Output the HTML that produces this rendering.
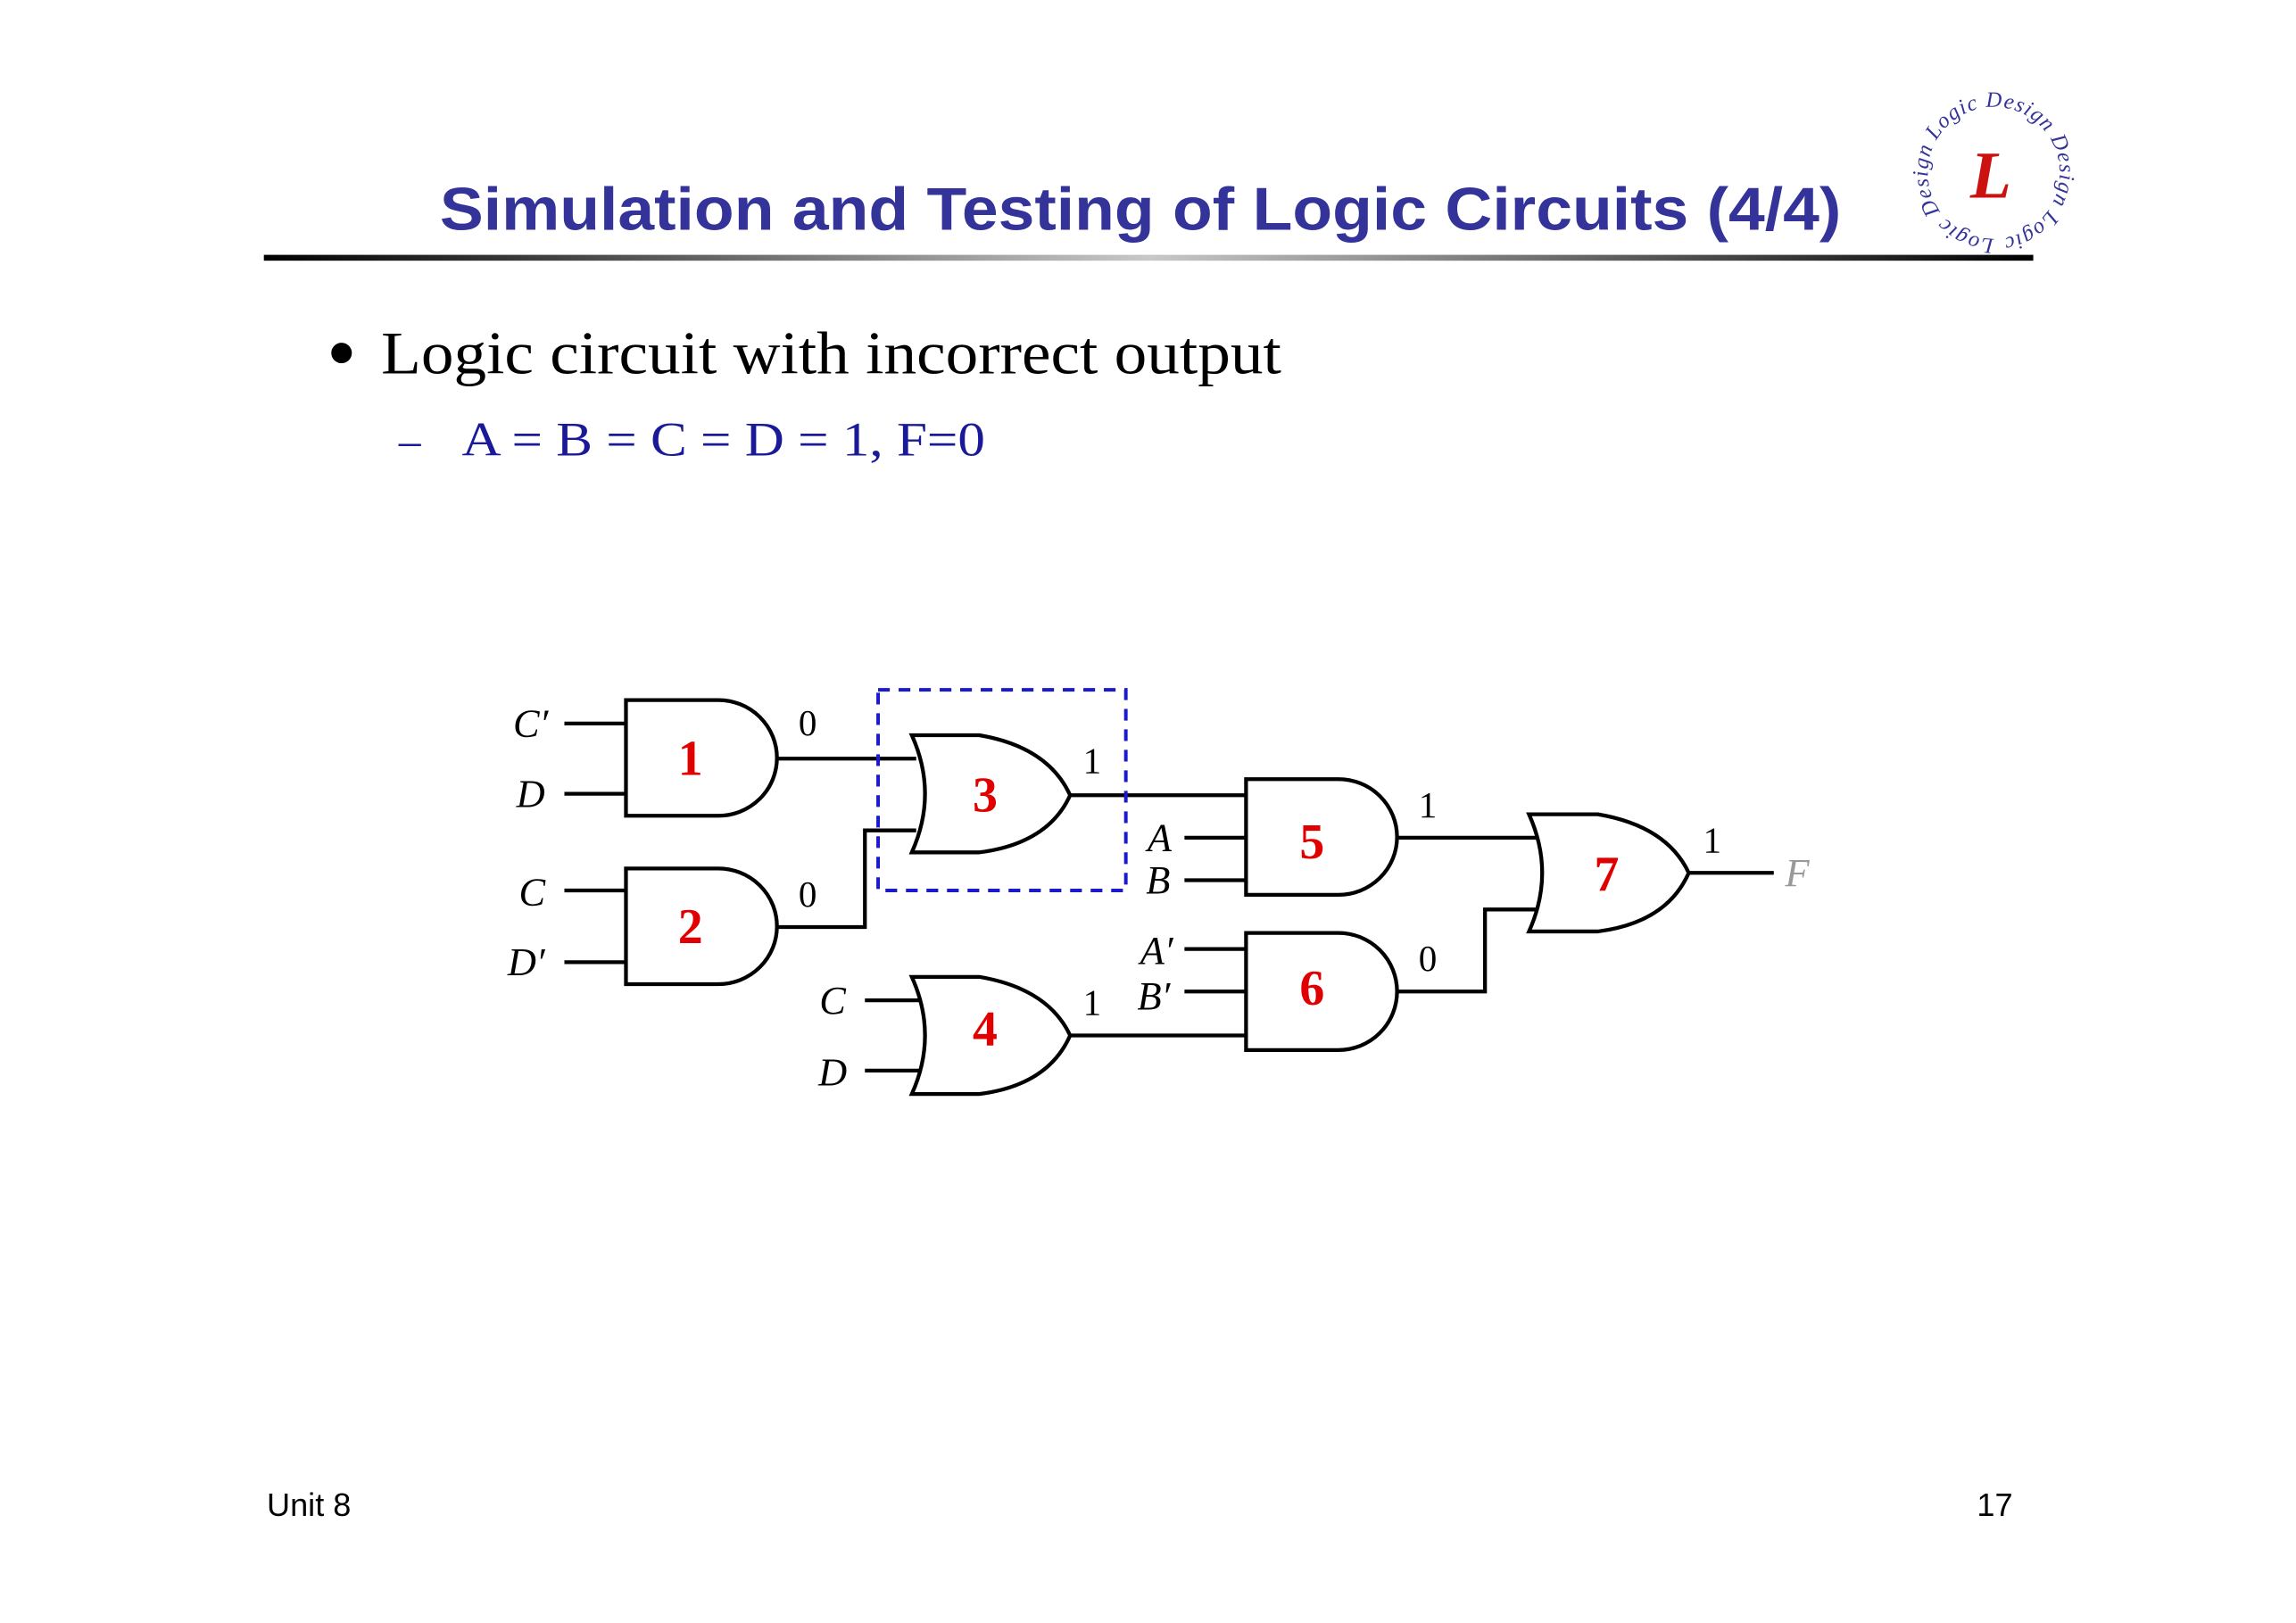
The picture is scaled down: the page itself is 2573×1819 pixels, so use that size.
<!DOCTYPE html>
<html><head><meta charset="utf-8"><style>html,body{margin:0;padding:0;background:#fff}svg{display:block}</style></head>
<body>
<svg width="2573" height="1819" viewBox="0 0 1549 1096" preserveAspectRatio="none" xmlns="http://www.w3.org/2000/svg">
<defs>
<linearGradient id="rg" x1="0" x2="1" y1="0" y2="0">
<stop offset="0" stop-color="#000"/><stop offset="0.5" stop-color="#c8c8c8"/><stop offset="1" stop-color="#000"/>
</linearGradient>
<path id="circ" d="M1360,163 a45,45 0 1,1 0.1,0"/>
</defs>
<rect width="1549" height="1096" fill="#fff"/>
<g transform="scale(0.989)">
<text x="300" y="157" font-family="Liberation Sans, sans-serif" font-weight="bold" font-size="41" fill="#333399" textLength="956" lengthAdjust="spacingAndGlyphs">Simulation and Testing of Logic Circuits (4/4)</text>
<rect x="180" y="174" width="1207" height="4" fill="url(#rg)"/>
<g font-family="Liberation Serif, serif" font-style="italic">
<text font-size="15" fill="#333399"><textPath href="#circ" textLength="275">Logic Design Logic Design Design Logic</textPath></text>
<text x="1358" y="135" font-size="46" fill="#cc1111" text-anchor="middle" font-weight="bold">L</text>
</g>
<circle cx="233" cy="241" r="7" fill="#000"/>
<text x="260" y="255" font-family="Liberation Serif, serif" font-size="41" fill="#000" textLength="614" lengthAdjust="spacingAndGlyphs">Logic circuit with incorrect output</text>
<text x="272" y="311" font-family="Liberation Serif, serif" font-size="30" fill="#1a1a99">–</text>
<text x="315" y="311" font-family="Liberation Serif, serif" font-size="33" fill="#1a1a99" textLength="357" lengthAdjust="spacingAndGlyphs">A = B = C = D = 1, F=0</text>
<text x="182" y="1035" font-family="Liberation Sans, sans-serif" font-size="22" fill="#000">Unit 8</text>
<text x="1373" y="1035" font-family="Liberation Sans, sans-serif" font-size="22" fill="#000" text-anchor="end">17</text>

<g fill="none" stroke="#000" stroke-width="2.6">
<path d="M385,494H427M385,542H427M530,518H625"/>
<path d="M385,608H427M385,657H427M530,633H590V567H625"/>
<path d="M590,683H627M590,731H627"/>
<path d="M730,543H850M808,572H850M808,601H850"/>
<path d="M808,648H850M808,677H850M730,707H850"/>
<path d="M953,572H1048M953,677H1013V621H1048"/>
<path d="M1152,596H1210"/>
<path d="M427,478H490A40,39.5 0 0 1 490,557H427Z"/>
<path d="M427,593H490A40,39.5 0 0 1 490,672H427Z"/>
<path d="M850,532H913A40,39.5 0 0 1 913,611H850Z"/>
<path d="M850,637H913A40,40 0 0 1 913,717H850Z"/>
<path d="M622,502H668Q715,510 730,543Q715,576 668,582H622Q640,542 622,502Z"/>
<path d="M622,667H668Q715,675 730,707Q715,741 668,747H622Q640,707 622,667Z"/>
<path d="M1043,556H1090Q1137,564 1152,596Q1137,630 1090,636H1043Q1061,596 1043,556Z"/>
</g>
<rect x="599" y="471" width="169" height="137" fill="none" stroke="#1a1acc" stroke-width="2.4" stroke-dasharray="8,6"/>

<g font-family="Liberation Serif, serif" font-weight="bold" font-size="34" fill="#e00000" text-anchor="middle">
<text x="471" y="529">1</text><text x="471" y="644">2</text><text x="672" y="554">3</text>
<text x="672" y="714">4</text><text x="895" y="586">5</text><text x="895" y="686">6</text><text x="1096" y="608">7</text>
</g>
<g font-family="Liberation Serif, serif" font-size="25" fill="#000" text-anchor="middle">
<text x="551" y="502">0</text><text x="745" y="528">1</text><text x="551" y="619">0</text>
<text x="745" y="693">1</text><text x="974" y="558">1</text><text x="974" y="663">0</text><text x="1168" y="582">1</text>
</g>
<g font-family="Liberation Serif, serif" font-style="italic" font-size="27" fill="#000" text-anchor="middle">
<text x="362" y="503">C′</text><text x="362" y="551">D</text>
<text x="363" y="618">C</text><text x="359" y="666">D′</text>
<text x="568" y="692">C</text><text x="568" y="741">D</text>
<text x="791" y="581">A</text><text x="790" y="610">B</text>
<text x="789" y="658">A′</text><text x="787" y="689">B′</text>
<text x="1226" y="605" fill="#999">F</text>
</g>
</g>
</svg>
</body></html>
